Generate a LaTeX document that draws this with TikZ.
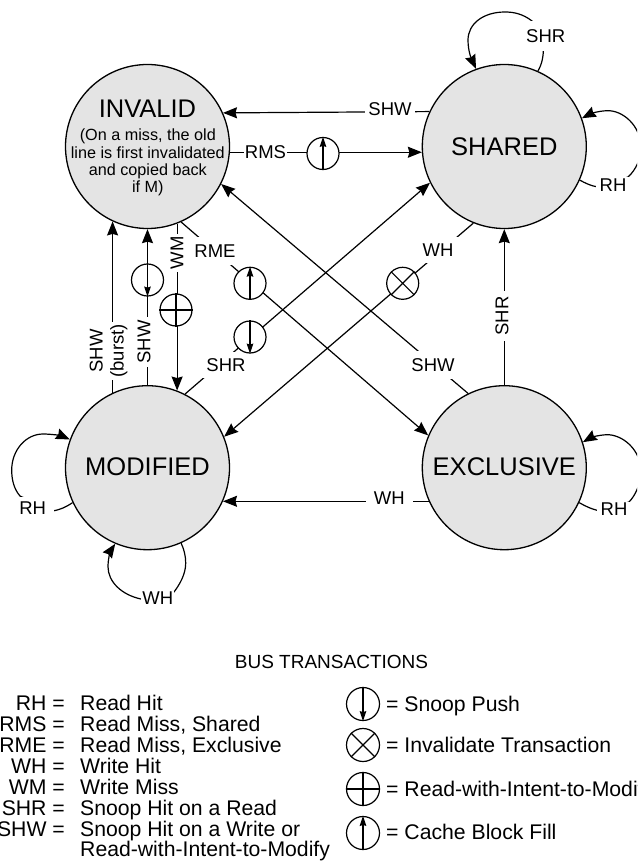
\documentclass[tikz,border=0pt]{standalone}
\usepackage{fontspec}
\setmainfont{Liberation Sans}
\usetikzlibrary{arrows.meta}
\newcommand{\fs}[1]{\fontsize{#1}{#1}\selectfont}
\tikzset{
  x=1pt,y=-1pt,
  state/.style={circle,draw=black,line width=1.3pt,fill=stategray,minimum size=164pt,inner sep=0pt,font=\fs{25.5}},
  conn/.style={line width=1.2pt,-{Stealth[length=14pt,width=11pt,inset=1.5pt]}},
  lab/.style={fill=white,inner sep=3pt,font=\fs{18.5}},
  sym/.style={circle,draw=black,line width=1.2pt,fill=white,minimum size=32pt,inner sep=0pt},
  symin/.style={line width=1.1pt},
  symarrow/.style={line width=1.1pt,-{Stealth[length=10pt,width=6.5pt,inset=1pt]}},
  legl/.style={anchor=base east,inner sep=0pt,font=\fs{21.2}},
  legt/.style={anchor=base west,inner sep=0pt,font=\fs{21.2}},
}
\definecolor{stategray}{HTML}{E4E4E4}
\newcommand{\symdown}[3]{\node[sym,#3] (#1) at #2 {}; \draw[symarrow] (#1.north) -- (#1.south);}
\newcommand{\symupw}[3]{\node[sym,#3] (#1) at #2 {}; \draw[symarrow] (#1.south) -- (#1.north);}
\newcommand{\symx}[3]{\node[sym,#3] (#1) at #2 {}; \draw[symin] (#1.45) -- (#1.225) (#1.135) -- (#1.-45);}
\newcommand{\symplus}[3]{\node[sym,#3] (#1) at #2 {}; \draw[symin] (#1.north) -- (#1.south) (#1.west) -- (#1.east);}
\begin{document}
\begin{tikzpicture}
\useasboundingbox (0,0) rectangle (637,861);
\clip (0,0) rectangle (637,861);
% states
\node[state] (inv) at (147.5,146.5) {};
\node[state] (sh) at (504.3,146.5) {SHARED};
\node[state] (mod) at (147.5,467.7) {\raisebox{2pt}{MODIFIED}};
\node[state] (exc) at (504.3,467.7) {\raisebox{2pt}{EXCLUSIVE}};
\node[align=center,inner sep=0pt] (invtitle) at (147.5,109) {\fs{25.5}INVALID};
\node[align=center,inner sep=0pt,font=\fontsize{16.2}{17.2}\selectfont] (invnote) at (147.8,162.5) {(On a miss, the old\\line is first invalidated\\and copied back\\if M)};
% straight connectors
\draw[conn] (sh.155.9) -- (inv.24.1);
\draw[conn] (inv.-4.9) -- (sh.184.9);
\draw[conn] (exc.116.8) -- (inv.-27);
\draw[conn] (inv.-66.6) -- (exc.157.2);
\draw[conn] (mod.63.9) -- (sh.206.7);
\draw[conn] (sh.248) -- (mod.22.4);
\draw[conn] (mod.115.65) -- (inv.-115.65);
\draw[conn] (mod.90) -- (inv.-90);
\draw[conn] (inv.-69.66) -- (mod.69.66);
\draw[conn] (exc.90) -- (sh.-90);
\draw[conn] (exc.204.2) -- (mod.-24.2);
% self loops
\draw[conn] (sh.66.1) .. controls (546,58) and (546,32) .. (532,21) .. controls (523,14) and (514,12) .. (505,12) .. controls (483,12) and (468,24) .. (468,40) .. controls (468,52) and (472,60) .. (sh.110.7);
\draw[conn] (sh.-24.2) .. controls (585,183) and (591,186) .. (598,187) -- (628,177) .. controls (636,170) and (641,158) .. (641,148) .. controls (641,125) and (622,110) .. (607,110.7) .. controls (598,111) and (590,114) .. (sh.20.8);
\draw[conn] (exc.-25.2) .. controls (585,506) and (591,509) .. (600,511) -- (629,502) .. controls (636,495) and (641,482) .. (641,472) .. controls (641,449) and (622,434.5) .. (607,434.7) .. controls (598,435) and (590,438) .. (exc.18.3);
\draw[conn] (mod.205) .. controls (66,507) and (60,510) .. (52,511) -- (20,496) .. controls (14,489) and (11.7,480) .. (11.7,470) .. controls (11.7,450) and (26,434) .. (43,434) .. controls (52,434) and (62,436) .. (mod.160.3);
\draw[conn] (mod.-66.6) .. controls (184,549) and (185.7,556) .. (185.7,563) .. controls (185.7,574) and (180,584) .. (174,592) -- (141,599) .. controls (122,595) and (108,582) .. (108,566.7) .. controls (108,558) and (111,550) .. (mod.-113.3);
% labels on connectors
\node[lab] (lshw1) at (390,109) {SHW};
\node[lab,inner xsep=1pt] (lrms) at (265.5,152) {RMS};
\node[lab,inner sep=8pt] (lrme) at (215,251) {RME};
\node[lab,inner sep=7pt] (lwh1) at (438,250) {WH};
\node[lab,inner sep=7pt] (lshw2) at (433,365) {SHW};
\node[lab,inner sep=6pt] (lshr1) at (226,365) {SHR};
\node[lab,rotate=90,align=center,inner sep=2pt,font=\fontsize{18.5}{21}\selectfont] (lshwb) at (108.5,351) {SHW\\(burst)};
\node[lab,rotate=90] (lshw3) at (144,342) {SHW};
\node[lab,rotate=90] (lwm) at (177,253) {WM};
\node[lab,rotate=90,inner sep=5pt] (lshr2) at (502,316) {SHR};
\node[lab,inner xsep=8pt] (lwh2) at (389.3,498) {WH};
\node[lab,inner xsep=3pt,inner ysep=8pt] (lshr3) at (545.7,36) {SHR};
\node[lab,inner xsep=4pt,inner ysep=2pt] (lrh1) at (613,185) {RH};
\node[lab,inner xsep=4pt,inner ysep=1pt] (lrh2) at (614,509) {RH};
\node[lab,inner xsep=8pt,inner ysep=5pt] (lrh3) at (32.7,508) {RH};
\node[lab,inner sep=1pt] (lwh3) at (157.7,598.3) {WH};
% transaction symbols
\symupw{sa}{(323,153.5)}{}
\symdown{sb}{(147.5,280)}{}
\symplus{sc}{(176,310)}{}
\symupw{sd}{(250,283.3)}{}
\symdown{se}{(250,337)}{}
\symx{sf}{(402.7,283.3)}{}
% legend
\node[font=\fs{19},inner sep=0pt] (title) at (331.5,661.7) {BUS TRANSACTIONS};
\node[legl] (k1) at (65,710) {RH =};
\node[legl] (k2) at (65,731) {RMS =};
\node[legl] (k3) at (65,752) {RME =};
\node[legl] (k4) at (65,773) {WH =};
\node[legl] (k5) at (65,794.5) {WM =};
\node[legl] (k6) at (65,815.5) {SHR =};
\node[legl] (k7) at (65,836.5) {SHW =};
\node[legt] (v1) at (80,710) {Read Hit};
\node[legt] (v2) at (80,731) {Read Miss, Shared};
\node[legt] (v3) at (80,752) {Read Miss, Exclusive};
\node[legt] (v4) at (80,773) {Write Hit};
\node[legt] (v5) at (80,794.5) {Write Miss};
\node[legt] (v6) at (80,815.5) {Snoop Hit on a Read};
\node[legt] (v7) at (80,836.5) {Snoop Hit on a Write or};
\node[legt] (v8) at (80,856.5) {Read-with-Intent-to-Modify};
\symdown{l1}{(363,704)}{minimum size=33pt}
\symx{l2}{(363,745)}{minimum size=33pt}
\symplus{l3}{(363,789)}{minimum size=33pt}
\symupw{l4}{(363,833)}{minimum size=33pt}
\node[legt] (r1) at (386,711) {= Snoop Push};
\node[legt] (r2) at (386,752.5) {= Invalidate Transaction};
\node[legt] (r3) at (386,796) {= Read-with-Intent-to-Modify};
\node[legt] (r4) at (386,839.5) {= Cache Block Fill};
\end{tikzpicture}
\end{document}
